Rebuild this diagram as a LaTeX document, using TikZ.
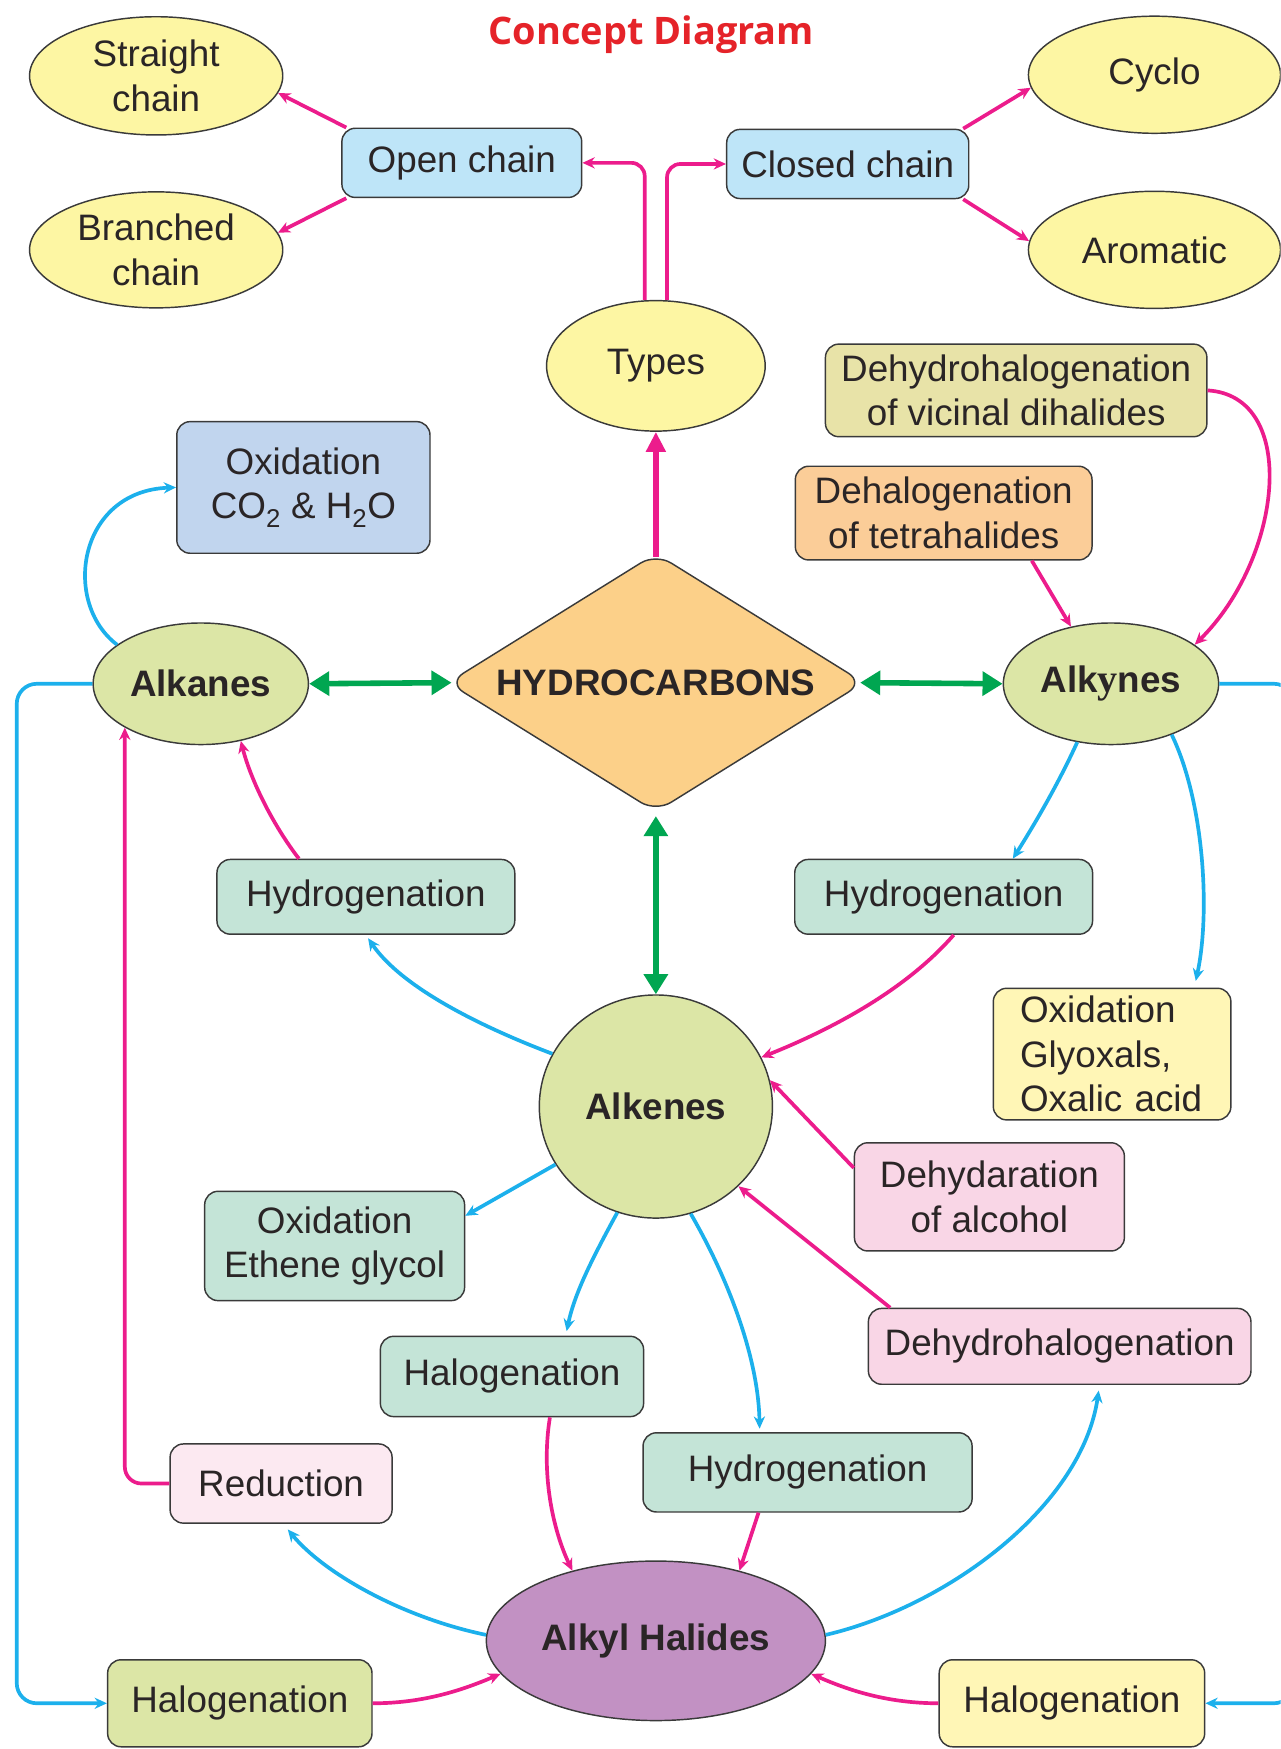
\documentclass[tikz,border=0pt]{standalone}
\usepackage{fontspec}
\usepackage{graphicx}
\setmainfont{Liberation Sans}
\newfontfamily\titlefont{Open Sans}
\newfontfamily\serify{Liberation Serif}
\usetikzlibrary{shapes.geometric,arrows.meta}
\definecolor{cPink}{HTML}{EC1C8C}
\definecolor{cBlue}{HTML}{1CB0EC}
\definecolor{cGreen}{HTML}{00A651}
\definecolor{cRed}{HTML}{E52329}
\definecolor{cTxt}{HTML}{2A2526}
\definecolor{cBord}{HTML}{3A3A3A}
\definecolor{cYel}{HTML}{FDF6A3}
\definecolor{cLBlue}{HTML}{BEE5F8}
\definecolor{cKhaki}{HTML}{E8E3A8}
\definecolor{cOrange}{HTML}{FBCD98}
\definecolor{cOxBlue}{HTML}{C1D5EE}
\definecolor{cLime}{HTML}{DCE6A6}
\definecolor{cDia}{HTML}{FCD089}
\definecolor{cTeal}{HTML}{C4E4D7}
\definecolor{cGly}{HTML}{FFF6B6}
\definecolor{cRose}{HTML}{F9D6E6}
\definecolor{cRed2}{HTML}{FCE9F1}
\definecolor{cPurple}{HTML}{C291C3}
\begin{document}
\begin{tikzpicture}[x=1pt,y=-1pt,
  every node/.style={font=\fontsize{33}{40}\selectfont, text=cTxt},
  base/.style={draw=cBord, line width=1.3pt, inner sep=0pt, align=center},
  rbox/.style={base, rectangle, rounded corners=12pt},
  ell/.style={base, ellipse},
  pkarrow/.style={draw=cPink, line width=3.3pt, -{Stealth[length=11pt,width=10pt]}},
  blarrow/.style={draw=cBlue, line width=3.3pt, -{Stealth[length=11pt,width=10pt]}},
  grarrow/.style={draw=cGreen, line width=5pt, {Triangle[length=18pt,width=21pt]}-{Triangle[length=18pt,width=21pt]}},
  boldc/.style={font=\bfseries\fontsize{33}{40}\selectfont}
]
\clip (0,0) rectangle (1148,1568);
\fill[white] (0,0) rectangle (1148,1568);

% title
\node[font=\titlefont\bfseries\fontsize{34}{40}\selectfont, text=cRed] (title) at (584,31) {Concept Diagram};

% top
\node[ell, fill=cYel, minimum width=227pt, minimum height=106pt] (straight) at (140,68) {Straight\\chain};
\node[ell, fill=cYel, minimum width=227pt, minimum height=104pt] (branched) at (140,224) {Branched\\chain};
\node[rbox, fill=cLBlue, minimum width=215pt, minimum height=62pt] (open) at (414,146) {Open chain};
\node[rbox, fill=cLBlue, minimum width=217pt, minimum height=62pt] (closed) at (760,147) {Closed chain};
\node[ell, fill=cYel, minimum width=226pt, minimum height=105pt] (cyclo) at (1035,67) {Cyclo};
\node[ell, fill=cYel, minimum width=226pt, minimum height=105pt] (aromatic) at (1035,224) {Aromatic};
\node[ell, fill=cYel, minimum width=196pt, minimum height=117pt] (types) at (588,328) {Types};

\node[rbox, fill=cKhaki, minimum width=342pt, minimum height=83pt] (vicinal) at (911,350) {Dehydrohalogenation\\of vicinal dihalides};
\node[rbox, fill=cOrange, minimum width=266pt, minimum height=84pt] (tetra) at (846,460) {Dehalogenation\\of tetrahalides};
\node[rbox, fill=cOxBlue, minimum width=227pt, minimum height=118pt] (oxco) at (272,437) {Oxidation\\CO\textsubscript{2} \& H\textsubscript{2}O};

% middle row
\node[ell, fill=cLime, minimum width=193pt, minimum height=109pt, boldc] (alkanes) at (180,613) {Alkanes};
\node[base, diamond, aspect=1.61, fill=cDia, minimum width=373pt, minimum height=232pt, rounded corners=16pt, boldc] (hc) at (588,612) {HYDROCARBONS};
\node[ell, fill=cLime, minimum width=193pt, minimum height=109pt, boldc] (alkynes) at (996,613) {Alk{\serify\bfseries\fontsize{36}{40}\selectfont y}nes};

\node[rbox, fill=cTeal, minimum width=267pt, minimum height=67pt] (hydL) at (328,804) {Hydrogenation};
\node[rbox, fill=cTeal, minimum width=267pt, minimum height=67pt] (hydR) at (846,804) {Hydrogenation};
\node[rbox, fill=cGly, text width=165pt, align=left, inner xsep=24pt, minimum height=118pt] (glyox) at (997,945) {Oxidation\\Glyoxals,\\Oxalic acid};

\node[ell, fill=cLime, minimum width=209pt, minimum height=200pt, boldc] (alkenes) at (588,992) {Alkenes};
\node[rbox, fill=cRose, minimum width=242pt, minimum height=97pt] (dehydar) at (887,1073) {Dehydaration\\of alcohol};
\node[rbox, fill=cTeal, minimum width=233pt, minimum height=98pt] (oxeth) at (300,1117) {Oxidation\\Ethene glycol};
\node[rbox, fill=cRose, minimum width=343pt, minimum height=68pt] (dehydro) at (950,1207) {Dehydrohalogenation};
\node[rbox, fill=cTeal, minimum width=236pt, minimum height=72pt] (halmid) at (459,1234) {Halogenation};
\node[rbox, fill=cTeal, minimum width=295pt, minimum height=71pt] (hydlow) at (724,1320) {Hydrogenation};
\node[rbox, fill=cRed2, minimum width=199pt, minimum height=71pt] (reduct) at (252,1330) {Reduction};
\node[ell, fill=cPurple, minimum width=304pt, minimum height=143pt, boldc] (alkyl) at (588,1471) {Alkyl Halides};
\node[rbox, fill=cLime, minimum width=237pt, minimum height=78pt] (halBL) at (215,1527) {Halogenation};
\node[rbox, fill=cGly, minimum width=238pt, minimum height=78pt] (halBR) at (961,1527) {Halogenation};

\coordinate (leftrail) at (15,1000);
\coordinate (rightrail) at (1160,1000);

% connectors: top
\draw[pkarrow] (open.163) -- (straight.-8);
\draw[pkarrow] (open.197) -- (branched.8);
\draw[pkarrow, rounded corners=12pt] ([xshift=-10pt]types.north) |- (open.east);
\draw[pkarrow, rounded corners=12pt] ([xshift=10pt]types.north) |- (closed.west);
\draw[pkarrow] (closed.17) -- (cyclo.186);
\draw[pkarrow] (closed.-17) -- (aromatic.176);
\draw[draw=cPink, line width=6pt, -{Triangle[length=18pt,width=17pt]}] ([yshift=-4pt]hc.north) -- (types.south);

% alkanes
\draw[blarrow] (alkanes.155) .. controls (55,540) and (70,440) .. (oxco.west);
\draw[grarrow] (alkanes.east) -- ([xshift=4pt]hc.west);
\draw[grarrow] ([xshift=-4pt]hc.east) -- (alkynes.west);
\draw[grarrow] ([yshift=-3pt]hc.south) -- (alkenes.north);

% alkynes
\draw[pkarrow] ([xshift=79pt]tetra.south) -- (alkynes.125);
\draw[pkarrow] (vicinal.east) .. controls (1165,355) and (1150,500) .. (alkynes.25);
\draw[blarrow] (alkynes.-120) .. controls (950,700) and (930,735) .. ([xshift=62pt]hydR.north);
\draw[blarrow] (alkynes.-40) .. controls (1080,720) and (1085,820) .. ([xshift=75pt,yshift=6pt]glyox.north);
\draw[blarrow, rounded corners=18pt] (alkynes.east) -| (rightrail) |- (halBR.east);
\draw[blarrow, rounded corners=18pt] (alkanes.west) -| (leftrail) |- (halBL.west);

% hydrogenations
\draw[pkarrow] ([xshift=-60pt]hydL.north) .. controls (245,740) and (225,700) .. (alkanes.-55);
\draw[blarrow] (alkenes.153) .. controls (430,920) and (360,885) .. ([xshift=2pt,yshift=-3pt]hydL.south);
\draw[pkarrow] ([xshift=9pt]hydR.south) .. controls (810,890) and (740,925) .. (alkenes.25);

% alkenes
\draw[pkarrow] ([yshift=26pt]dehydar.west) -- (alkenes.13);
\draw[blarrow] (alkenes.-150) -- ([yshift=27pt]oxeth.east);
\draw[pkarrow] ([xshift=-152pt]dehydro.north) -- (alkenes.-44);
\draw[blarrow] (alkenes.-110) .. controls (530,1130) and (515,1160) .. ([xshift=49pt,yshift=4pt]halmid.north);
\draw[blarrow] (alkenes.-72) .. controls (655,1150) and (680,1220) .. ([xshift=-43pt,yshift=3pt]hydlow.north);

% alkyl halides
\draw[pkarrow] ([xshift=34pt]halmid.south) .. controls (485,1320) and (495,1370) .. (alkyl.140);
\draw[pkarrow] ([xshift=-44pt]hydlow.south) -- (alkyl.40);
\draw[pkarrow, rounded corners=15pt] (reduct.west) -| (alkanes.-150);
\draw[blarrow] (alkyl.178) .. controls (360,1450) and (290,1410) .. ([xshift=6pt,yshift=-5pt]reduct.south);
\draw[blarrow] (alkyl.2) .. controls (850,1440) and (970,1350) .. ([xshift=35pt,yshift=-5pt]dehydro.south);
\draw[pkarrow] (halBL.east) .. controls (380,1527) and (415,1515) .. (alkyl.-168);
\draw[pkarrow] (halBR.west) .. controls (795,1527) and (760,1515) .. (alkyl.-12);
\end{tikzpicture}
\end{document}
